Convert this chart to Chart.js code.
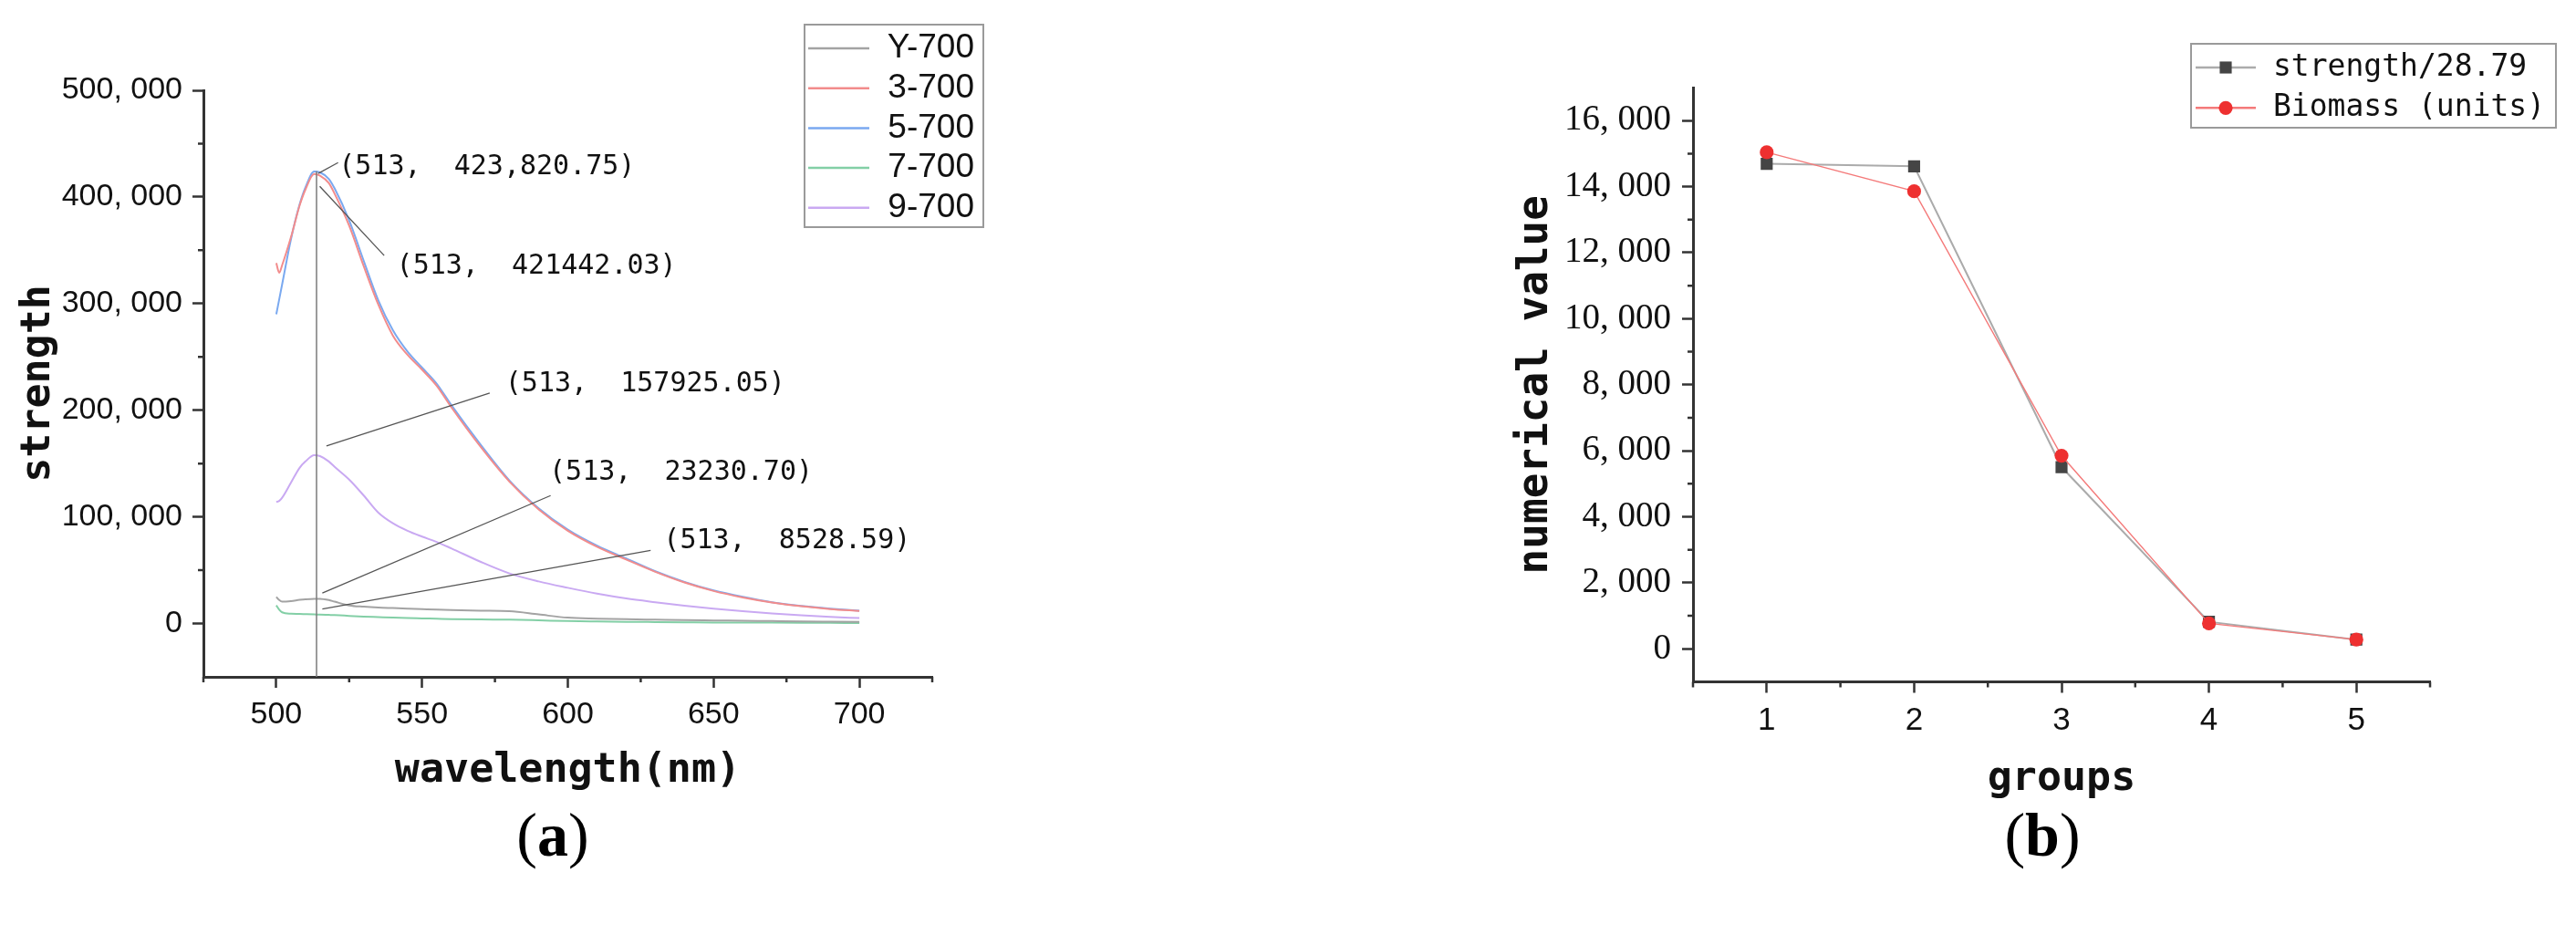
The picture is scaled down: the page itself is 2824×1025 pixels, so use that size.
<!DOCTYPE html>
<html>
<head>
<meta charset="utf-8">
<script src="https://cdn.jsdelivr.net/npm/chart.js@4.4.0/dist/chart.umd.min.js"></script>
<style>
  body { margin: 0; background: #fff; width: 2824px; height: 1025px; position: relative; overflow: hidden; }
  canvas { position: absolute; top: 0; }
  #chartA { left: 0; }
  #chartB { left: 1600px; }
  .cap { position: absolute; top: 876px; font-family: "Liberation Serif", serif; font-size: 68px; transform: translateX(-50%); color: #000; }
</style>
</head>
<body>
<canvas id="chartA" width="1400" height="1025"></canvas>
<canvas id="chartB" width="1224" height="1025"></canvas>
<div class="cap" style="left:606px">(<b>a</b>)</div>
<div class="cap" style="left:2239px">(<b>b</b>)</div>
<script>
// ---- (a) spectra ----
const wavelengths = [500, 501, 502, 505, 508, 510, 513, 515, 518, 520, 525, 530, 535, 540, 545, 550, 555, 560, 570, 580, 590, 600, 610, 620, 630, 640, 650, 660, 670, 680, 690, 700];
const seriesY700 = [25000, 22000, 20500, 21000, 22200, 22800, 23231, 23200, 22000, 20500, 17000, 15800, 15000, 14500, 14000, 13500, 13000, 12600, 12000, 11500, 8500, 5500, 4600, 4000, 3600, 3200, 2900, 2600, 2300, 2000, 1800, 1600];
const series3700 = [338000, 329000, 336000, 362000, 392000, 407000, 421442, 420000, 413000, 403000, 373000, 335000, 299000, 270000, 252000, 238000, 223000, 203000, 166000, 133000, 107000, 87000, 72000, 60000, 48500, 38500, 30500, 24500, 19800, 16200, 13600, 11800];
const series5700 = [290000, 304000, 318000, 360000, 393000, 409000, 423821, 423000, 417000, 408000, 378000, 340000, 303000, 275000, 255000, 240000, 225000, 205000, 168000, 134000, 108000, 88000, 73000, 61000, 49000, 39000, 31000, 25000, 20000, 16500, 14000, 12000];
const series7700 = [17000, 13000, 10500, 9200, 9000, 8800, 8529, 8400, 8100, 7900, 7200, 6500, 6000, 5500, 5100, 4800, 4500, 4200, 3800, 3600, 3000, 2300, 1900, 1600, 1400, 1200, 1000, 900, 800, 700, 600, 500];
const series9700 = [114000, 115000, 118000, 132000, 146000, 152000, 157925, 157000, 152000, 147000, 135000, 120000, 104000, 94000, 87000, 81500, 76500, 70500, 58000, 47000, 39500, 33500, 28000, 23500, 20000, 16800, 14000, 11500, 9500, 7800, 6300, 5100];
const seriesNamesA = ["Y-700", "3-700", "5-700", "7-700", "9-700"];
const xTicksA = [500, 550, 600, 650, 700];
const xMinorA = [475, 525, 575, 625, 675, 725];
const yTicksA = [0, 100000, 200000, 300000, 400000, 500000];
const yTickLabelsA = ["0", "100, 000", "200, 000", "300, 000", "400, 000", "500, 000"];
const yMinorA = [50000, 150000, 250000, 350000, 450000];

// data-cursor at 513 nm and its labels
const cursorWl = 513.8;
const cursorTop = 424000;
const annotationTexts = ["(513,  423,820.75)", "(513,  421442.03)", "(513,  157925.05)", "(513,  23230.70)", "(513,  8528.59)"];
const leaderFromWl = [514.4, 514.9, 517.2, 515.8, 515.8];
const leaderFromVal = [422000, 410000, 166600, 28600, 13700];
const leaderToWl = [521.2, 537.0, 573.2, 594.1, 628.4];
const leaderToVal = [432200, 345100, 216200, 120000, 68600];
const labelWl = [521.4, 541.2, 578.5, 593.6, 632.8];
const labelVal = [428000, 335000, 224800, 141600, 77300];

// ---- (b) groups ----
const groups = [1, 2, 3, 4, 5];
const strengthScaled = [14690, 14615, 5505, 820, 280];
const biomass = [15040, 13860, 5850, 770, 280];
const xMinorB = [0.5, 1.5, 2.5, 3.5, 4.5, 5.5];
const yTicksB = [0, 2000, 4000, 6000, 8000, 10000, 12000, 14000, 16000];
const yTickLabelsB = ["0", "2, 000", "4, 000", "6, 000", "8, 000", "10, 000", "12, 000", "14, 000", "16, 000"];
const yMinorB = [1000, 3000, 5000, 7000, 9000, 11000, 13000, 15000];

const axisColor = "#333";
const monoFont = "DejaVu Sans Mono";

// minor tick marks, drawn through the chart's own scales
const minorTicks = {
  id: "minorTicks",
  afterDraw(chart, args, opts) {
    const { ctx, chartArea, scales } = chart;
    ctx.save();
    ctx.strokeStyle = axisColor;
    ctx.lineWidth = 2.5;
    ctx.beginPath();
    opts.x.forEach(v => {
      const px = scales.x.getPixelForValue(v);
      ctx.moveTo(px, chartArea.bottom);
      ctx.lineTo(px, chartArea.bottom + opts.len);
    });
    opts.y.forEach(v => {
      const py = scales.y.getPixelForValue(v);
      ctx.moveTo(chartArea.left, py);
      ctx.lineTo(chartArea.left - opts.len, py);
    });
    ctx.stroke();
    ctx.restore();
  }
};

// boxed legend in Origin style
const boxLegend = {
  id: "boxLegend",
  afterDraw(chart, args, o) {
    const ctx = chart.ctx;
    ctx.save();
    ctx.strokeStyle = "#9a9a9a";
    ctx.lineWidth = 2;
    ctx.strokeRect(o.left, o.top, o.width, o.height);
    ctx.font = o.font;
    ctx.fillStyle = "#111";
    ctx.textBaseline = "middle";
    ctx.textAlign = o.textAlign;
    chart.data.datasets.forEach((ds, i) => {
      const y = o.firstRow + i * o.rowGap;
      ctx.strokeStyle = ds.borderColor;
      ctx.lineWidth = 2.5;
      ctx.beginPath();
      ctx.moveTo(o.lineX0, y);
      ctx.lineTo(o.lineX1, y);
      ctx.stroke();
      if (ds.pointRadius > 0) {
        const cx = (o.lineX0 + o.lineX1) / 2;
        ctx.fillStyle = ds.pointBackgroundColor;
        ctx.beginPath();
        if (ds.pointStyle === "rect") {
          const s = ds.pointRadius * Math.SQRT1_2;
          ctx.rect(cx - s, y - s, 2 * s, 2 * s);
        } else {
          ctx.arc(cx, y, ds.pointRadius, 0, Math.PI * 2);
        }
        ctx.fill();
      }
      ctx.fillStyle = "#111";
      ctx.fillText(ds.label, o.textX, y);
    });
    ctx.restore();
  }
};

// cursor line at 513 nm and leader labels
const cursorNotes = {
  id: "cursorNotes",
  afterDatasetsDraw(chart) {
    const { ctx, scales: { x, y } } = chart;
    ctx.save();
    ctx.strokeStyle = "#7a7a7a";
    ctx.lineWidth = 1.5;
    ctx.beginPath();
    ctx.moveTo(x.getPixelForValue(cursorWl), y.getPixelForValue(y.min));
    ctx.lineTo(x.getPixelForValue(cursorWl), y.getPixelForValue(cursorTop));
    ctx.stroke();
    ctx.strokeStyle = "#555";
    ctx.lineWidth = 1.3;
    ctx.font = "30px " + monoFont;
    ctx.fillStyle = "#111";
    ctx.textBaseline = "middle";
    annotationTexts.forEach((t, i) => {
      ctx.beginPath();
      ctx.moveTo(x.getPixelForValue(leaderFromWl[i]), y.getPixelForValue(leaderFromVal[i]));
      ctx.lineTo(x.getPixelForValue(leaderToWl[i]), y.getPixelForValue(leaderToVal[i]));
      ctx.stroke();
      ctx.fillText(t, x.getPixelForValue(labelWl[i]), y.getPixelForValue(labelVal[i]));
    });
    ctx.restore();
  }
};

function axisBase(tickFont, tickPad) {
  return {
    grid: { drawOnChartArea: false, drawTicks: true, tickLength: 12, tickWidth: 2.5, tickColor: axisColor },
    border: { display: true, width: 3, color: axisColor },
    ticks: { font: tickFont, color: "#111", padding: tickPad, maxRotation: 0, autoSkip: false }
  };
}

const colorsA = ["#a3a3a3", "#f28c8c", "#7aa9f0", "#83cfa6", "#c9a9f2"];
const seriesA = [seriesY700, series3700, series5700, series7700, series9700];

new Chart(document.getElementById("chartA"), {
  type: "line",
  data: {
    datasets: seriesA.map((s, k) => ({
      label: seriesNamesA[k],
      data: wavelengths.map((w, i) => ({ x: w, y: s[i] })),
      borderColor: colorsA[k],
      borderWidth: 2,
      pointRadius: 0,
      cubicInterpolationMode: "monotone",
      fill: false
    }))
  },
  options: {
    responsive: false,
    animation: false,
    layout: { padding: { top: 99, right: 378, bottom: 0, left: 0 } },
    plugins: {
      legend: { display: false },
      tooltip: { enabled: false },
      minorTicks: { x: xMinorA, y: yMinorA, len: 6 },
      boxLegend: {
        left: 882, top: 27, width: 196, height: 222,
        firstRow: 53, rowGap: 43.7, lineX0: 886, lineX1: 953,
        textX: 1068, textAlign: "right", font: "37px 'Liberation Sans'"
      }
    },
    scales: {
      x: Object.assign(axisBase({ family: "Liberation Sans", size: 34 }, 9), {
        type: "linear", min: 475, max: 725,
        afterBuildTicks: s => { s.ticks = xTicksA.map(v => ({ value: v })); },
        afterFit: s => { s.height = 283; },
        title: { display: true, text: "wavelength(nm)", color: "#111", font: { family: monoFont, size: 45, weight: "bold" }, padding: { bottom: 153 } }
      }),
      y: Object.assign(axisBase({ family: "Liberation Sans", size: 34 }, 11), {
        type: "linear", min: -50000, max: 500000,
        afterBuildTicks: s => { s.ticks = yTicksA.map(v => ({ value: v })); },
        afterFit: s => { s.width = 223; },
        title: { display: true, text: "strength", color: "#111", font: { family: monoFont, size: 45, weight: "bold" }, padding: { top: 15 } }
      })
    }
  },
  plugins: [minorTicks, boxLegend, cursorNotes]
});
Chart.getChart("chartA").options.scales.y.ticks.callback = (v, i) => yTickLabelsA[i];
Chart.getChart("chartA").options.scales.x.ticks.callback = v => String(v);
Chart.getChart("chartA").update();

new Chart(document.getElementById("chartB"), {
  type: "line",
  data: {
    datasets: [
      {
        label: "strength/28.79",
        data: groups.map((g, i) => ({ x: g, y: strengthScaled[i] })),
        borderColor: "#ababab",
        borderWidth: 2,
        pointStyle: "rect",
        pointRadius: 9.3,
        pointBackgroundColor: "#454545",
        pointBorderWidth: 0,
        order: 2
      },
      {
        label: "Biomass (units)",
        data: groups.map((g, i) => ({ x: g, y: biomass[i] })),
        borderColor: "#f47a7a",
        borderWidth: 1.4,
        pointStyle: "circle",
        pointRadius: 7.6,
        pointBackgroundColor: "#ee3030",
        pointBorderWidth: 0,
        order: 1
      }
    ]
  },
  options: {
    responsive: false,
    animation: false,
    layout: { padding: { top: 96, right: 160, bottom: 0, left: 0 } },
    plugins: {
      legend: { display: false },
      tooltip: { enabled: false },
      minorTicks: { x: xMinorB, y: yMinorB, len: 6 },
      boxLegend: {
        left: 802, top: 48, width: 400, height: 92,
        firstRow: 74, rowGap: 44.3, lineX0: 807, lineX1: 873,
        textX: 892, textAlign: "left", font: "33px '" + monoFont + "'"
      }
    },
    scales: {
      x: Object.assign(axisBase({ family: "Liberation Sans", size: 35 }, 10), {
        type: "linear", min: 0.5, max: 5.5,
        afterBuildTicks: s => { s.ticks = groups.map(v => ({ value: v })); },
        afterFit: s => { s.height = 277.5; },
        title: { display: true, text: "groups", color: "#111", font: { family: monoFont, size: 45, weight: "bold" }, padding: { bottom: 144 } }
      }),
      y: Object.assign(axisBase({ family: "Liberation Serif", size: 39 }, 12), {
        type: "linear", min: -1000, max: 17000,
        afterBuildTicks: s => { s.ticks = yTicksB.map(v => ({ value: v })); },
        afterFit: s => { s.width = 256; },
        title: { display: true, text: "numerical value", color: "#111", font: { family: monoFont, size: 46, weight: "bold" }, padding: { top: 56 } }
      })
    }
  },
  plugins: [minorTicks, boxLegend]
});
Chart.getChart("chartB").options.scales.y.ticks.callback = (v, i) => yTickLabelsB[i];
Chart.getChart("chartB").options.scales.x.ticks.callback = v => String(v);
Chart.getChart("chartB").update();
</script>
</body>
</html>
